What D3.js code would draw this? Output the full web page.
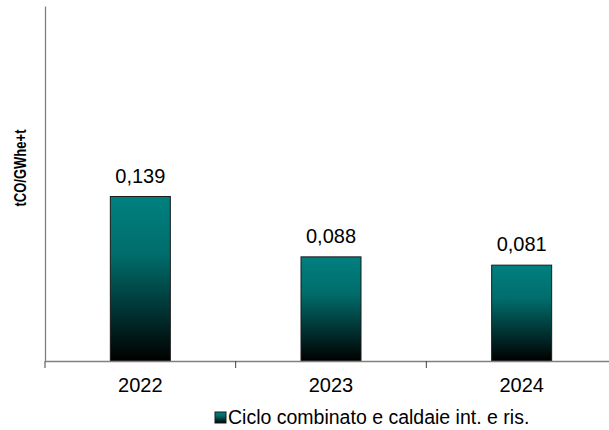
<!DOCTYPE html>
<html>
<head>
<meta charset="utf-8">
<script src="https://cdn.jsdelivr.net/npm/d3@7"></script>
<style>
  body { margin: 0; background: #fff; }
  text { font-family: "Liberation Sans", Arial, sans-serif; }
</style>
</head>
<body>
<svg></svg>
<script>
const years = ["2022", "2023", "2024"];
const values = [0.139, 0.088, 0.081];
const labels = ["0,139", "0,088", "0,081"];
const seriesName = "Ciclo combinato e caldaie int. e ris.";
const yLabel = "tCO/GWhe+t";

const width = 609, height = 430;
const padL = 45, padR = 617, padT = 6, padB = 361;

const svg = d3.select("svg").attr("width", width).attr("height", height);

// gradient for the bars
const grad = svg.append("defs").append("linearGradient")
  .attr("id", "barGrad").attr("x1", 0).attr("y1", 0).attr("x2", 0).attr("y2", 1);
grad.append("stop").attr("offset", "0%").attr("stop-color", "#008080");
grad.append("stop").attr("offset", "35%").attr("stop-color", "#006d6c");
grad.append("stop").attr("offset", "100%").attr("stop-color", "#000000");

const data = years.map((y, i) => ({ year: y, value: values[i], label: labels[i] }));

const x = d3.scaleBand().domain(years).range([padL, padR]).paddingInner(0).paddingOuter(0);
const y = d3.scaleLinear().domain([0, 0.3]).range([padB, padT]);
const barW = 60;

// bars
svg.selectAll(".bar").data(data).enter().append("rect")
  .attr("class", "bar")
  .attr("x", d => x(d.year) + x.bandwidth() / 2 - barW / 2)
  .attr("y", d => y(d.value))
  .attr("width", barW)
  .attr("height", d => y(0) - y(d.value))
  .attr("fill", "url(#barGrad)")
  .attr("stroke", "#1a1a1a")
  .attr("stroke-width", 1);

// value labels
svg.selectAll(".val").data(data).enter().append("text")
  .attr("x", d => x(d.year) + x.bandwidth() / 2)
  .attr("y", d => y(d.value) - 14)
  .attr("text-anchor", "middle")
  .attr("font-size", 20)
  .attr("fill", "#000")
  .text(d => d.label);

// x axis
const xAxis = svg.append("g")
  .attr("transform", `translate(0,${padB})`)
  .call(d3.axisBottom(x).tickSize(0).tickPadding(17));
xAxis.select(".domain").attr("stroke", "#808080").attr("stroke-width", 1.3);
xAxis.selectAll("text").attr("font-size", 20).attr("fill", "#000")
  .attr("font-family", "Liberation Sans, Arial, sans-serif");
// tick marks between categories
xAxis.selectAll(".sep").data(years).enter().append("line")
  .attr("x1", d => x(d)).attr("x2", d => x(d))
  .attr("y1", 0).attr("y2", 7)
  .attr("stroke", "#404040");

// y axis (line only)
const yAxis = svg.append("g")
  .attr("transform", `translate(${padL},0)`)
  .call(d3.axisLeft(y).tickValues([]).tickSizeOuter(0));
yAxis.select(".domain").attr("stroke", "#808080").attr("stroke-width", 1.3);

// y label
svg.append("text")
  .attr("transform", `translate(26,168) rotate(-90)`)
  .attr("text-anchor", "middle")
  .attr("font-family", "Open Sans, sans-serif")
  .attr("font-weight", "bold")
  .attr("font-size", 17)
  .attr("textLength", 77)
  .attr("lengthAdjust", "spacingAndGlyphs")
  .text(yLabel);

// legend
const lg = svg.append("g").attr("transform", "translate(215,412)");
lg.append("rect").attr("width", 11).attr("height", 11)
  .attr("fill", "url(#barGrad)").attr("stroke", "#1a1a1a");
lg.append("text").attr("x", 13).attr("y", 12)
  .attr("font-size", 19.5).attr("fill", "#000")
  .text(seriesName);
</script>
</body>
</html>
